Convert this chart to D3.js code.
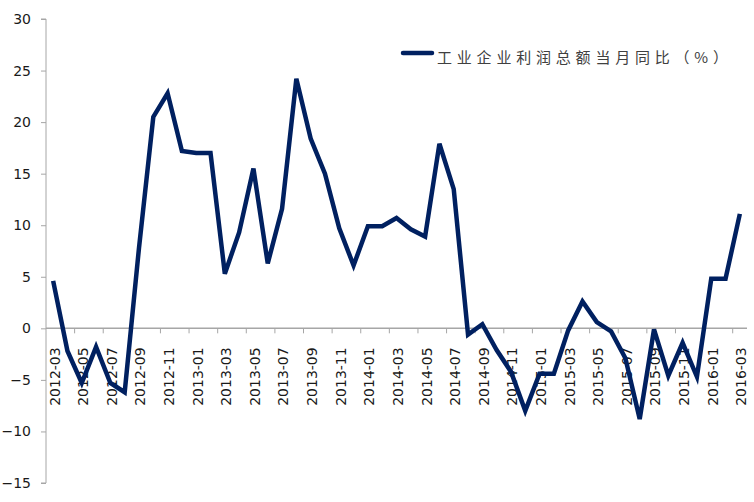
<!DOCTYPE html>
<html>
<head>
<meta charset="utf-8">
<script src="https://cdn.jsdelivr.net/npm/d3@7"></script>
<style>
  html, body { margin: 0; padding: 0; background: #fff; }
  svg { display: block; }
</style>
</head>
<body>
<svg id="chart" width="754" height="502"></svg>
<script>
const categories = [
  "2012-03","2012-04","2012-05","2012-06","2012-07","2012-08","2012-09","2012-10","2012-11","2012-12",
  "2013-01","2013-02","2013-03","2013-04","2013-05","2013-06","2013-07","2013-08","2013-09","2013-10","2013-11","2013-12",
  "2014-01","2014-02","2014-03","2014-04","2014-05","2014-06","2014-07","2014-08","2014-09","2014-10","2014-11","2014-12",
  "2015-01","2015-02","2015-03","2015-04","2015-05","2015-06","2015-07","2015-08","2015-09","2015-10","2015-11","2015-12",
  "2016-01","2016-02","2016-03"
];
const profitYoY = [
  4.6, -2.2, -5.3, -1.8, -5.3, -6.2, 7.8, 20.5, 22.8, 17.2,
  17.0, 17.0, 5.3, 9.3, 15.5, 6.3, 11.6, 24.2, 18.4, 15.0, 9.7, 6.1,
  9.9, 9.9, 10.7, 9.6, 8.9, 17.9, 13.5, -0.6, 0.4, -2.1, -4.2, -8.0,
  -4.4, -4.4, -0.2, 2.6, 0.6, -0.3, -2.9, -8.8, -0.1, -4.6, -1.4, -4.7,
  4.8, 4.8, 11.1
];
const yTicks = [-15, -10, -5, 0, 5, 10, 15, 20, 25, 30];
const seriesName = "工业企业利润总额当月同比（%）";

const svg = d3.select("#chart");
const axisColor = "#a6a6a6";
const lineColor = "#002060";

const x = d3.scaleBand().domain(categories).range([46, 747]).padding(0);
const y = d3.scaleLinear().domain([-15, 30]).range([483, 19]);
const xc = c => x(c) + x.bandwidth() / 2;

// Y axis
const yAxis = d3.axisLeft(y).tickValues(yTicks).tickSize(5).tickPadding(10).tickFormat(d3.format("d"));
const gy = svg.append("g").attr("transform", "translate(46,0)").call(yAxis);
gy.select(".domain").attr("stroke", axisColor).attr("d", `M-5,${y(-15)}H0V${y(30)}H-5`);
gy.selectAll(".tick line").attr("stroke", axisColor);
gy.selectAll(".tick text")
  .attr("font-family", "DejaVu Sans, sans-serif")
  .attr("font-size", 14)
  .attr("fill", "#1a1a1a");

// X axis along zero
const evenCats = categories.filter((d, i) => i % 2 === 0);
const gx = svg.append("g");
gx.append("line")
  .attr("x1", x.range()[0]).attr("x2", x.range()[1])
  .attr("y1", y(0)).attr("y2", y(0))
  .attr("stroke", axisColor).attr("stroke-width", 1.5);
gx.selectAll("line.tk").data(evenCats.slice(1)).enter().append("line")
  .attr("class", "tk")
  .attr("x1", d => x(d)).attr("x2", d => x(d))
  .attr("y1", y(0)).attr("y2", y(0) + 5)
  .attr("stroke", axisColor).attr("stroke-width", 1);
gx.selectAll("text").data(evenCats).enter().append("text")
  .attr("transform", d => `translate(${xc(d) + 1.5},${y(0) + 19}) rotate(-90)`)
  .attr("dy", "0.35em")
  .attr("text-anchor", "end")
  .attr("font-family", "DejaVu Sans, sans-serif")
  .attr("font-size", 14)
  .attr("fill", "#1a1a1a")
  .text(d => d);

// Line
const line = d3.line().x((d, i) => xc(categories[i])).y(d => y(d));
svg.append("path")
  .datum(profitYoY)
  .attr("d", line)
  .attr("fill", "none")
  .attr("stroke", lineColor)
  .attr("stroke-width", 4.5)
  .attr("stroke-linejoin", "miter")
  .attr("stroke-linecap", "butt");

// Legend
const lg = svg.append("g");
lg.append("line")
  .attr("x1", 403).attr("x2", 432).attr("y1", 53).attr("y2", 53)
  .attr("stroke", lineColor).attr("stroke-width", 4.5).attr("stroke-linecap", "round");
lg.append("text")
  .attr("x", 437).attr("y", 63)
  .attr("font-family", "Noto Sans CJK SC, sans-serif")
  .attr("font-size", 15)
  .attr("fill", "#404040")
  .attr("textLength", 291)
  .attr("lengthAdjust", "spacing")
  .text(seriesName);
</script>
</body>
</html>
